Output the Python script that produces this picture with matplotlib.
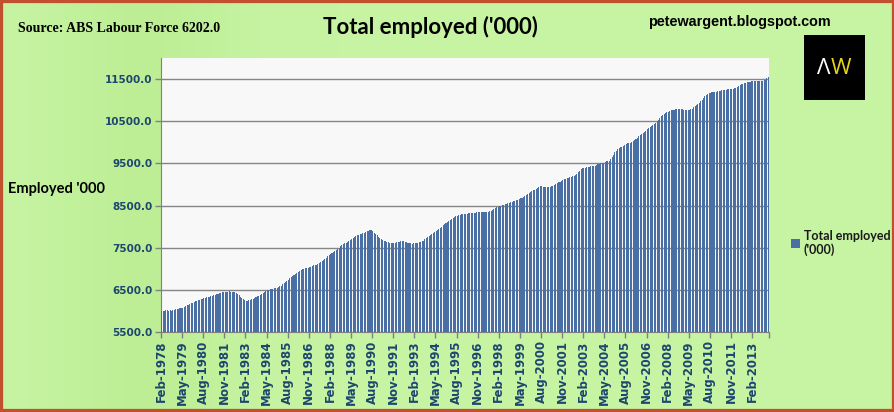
"""
Total employed ('000) - ABS Labour Force 6202.0, monthly Feb-1978 to Jan-2014
"""
import numpy as np
import matplotlib
matplotlib.use('Agg')
import matplotlib.pyplot as plt
from matplotlib.patches import Rectangle

# monthly employed ('000), one list per year
y1978 = [5995, 6010, 6005, 6020, 6015, 6000, 6025, 6010, 6030, 6020, 6035]  # Feb-Dec
y1979 = [6040, 6050, 6065, 6060, 6080, 6095, 6110, 6130, 6150, 6165, 6180, 6195]
y1980 = [6210, 6225, 6240, 6250, 6265, 6275, 6285, 6300, 6310, 6320, 6330, 6340]
y1981 = [6350, 6360, 6370, 6385, 6395, 6405, 6420, 6435, 6440, 6445, 6450, 6455]
y1982 = [6460, 6462, 6458, 6455, 6450, 6440, 6420, 6400, 6370, 6340, 6310, 6280]
y1983 = [6260, 6246, 6240, 6250, 6265, 6280, 6290, 6310, 6330, 6345, 6360, 6375]
y1984 = [6400, 6420, 6445, 6465, 6485, 6500, 6510, 6520, 6530, 6535, 6540, 6550]
y1985 = [6565, 6580, 6600, 6630, 6660, 6690, 6715, 6740, 6770, 6800, 6830, 6860]
y1986 = [6880, 6900, 6920, 6950, 6975, 6990, 7000, 7010, 7020, 7030, 7040, 7050]
y1987 = [7060, 7080, 7090, 7100, 7115, 7130, 7160, 7180, 7200, 7230, 7260, 7300]
y1988 = [7330, 7357, 7380, 7400, 7420, 7440, 7470, 7500, 7530, 7555, 7580, 7600]
y1989 = [7620, 7640, 7660, 7680, 7700, 7725, 7750, 7770, 7790, 7805, 7815, 7830]
y1990 = [7840, 7855, 7870, 7885, 7900, 7912, 7910, 7890, 7860, 7820, 7790, 7760]
y1991 = [7740, 7715, 7690, 7670, 7650, 7640, 7630, 7620, 7610, 7610, 7615, 7620]
y1992 = [7630, 7640, 7645, 7650, 7655, 7650, 7640, 7630, 7620, 7610, 7600, 7595]
y1993 = [7600, 7610, 7615, 7620, 7625, 7635, 7650, 7670, 7700, 7730, 7755, 7780]
y1994 = [7800, 7825, 7850, 7875, 7895, 7912, 7940, 7970, 8000, 8030, 8060, 8085]
y1995 = [8110, 8140, 8160, 8185, 8210, 8230, 8245, 8260, 8270, 8280, 8290, 8300]
y1996 = [8305, 8310, 8310, 8315, 8320, 8325, 8325, 8330, 8330, 8335, 8340, 8340]
y1997 = [8345, 8345, 8345, 8350, 8350, 8345, 8360, 8380, 8400, 8420, 8440, 8460]
y1998 = [8475, 8490, 8500, 8510, 8520, 8530, 8540, 8550, 8560, 8575, 8590, 8600]
y1999 = [8610, 8625, 8640, 8655, 8670, 8690, 8710, 8730, 8750, 8776, 8800, 8820]
y2000 = [8840, 8860, 8880, 8900, 8925, 8950, 8960, 8955, 8945, 8940, 8935, 8934]
y2001 = [8940, 8950, 8960, 8975, 8990, 9010, 9030, 9050, 9070, 9091, 9110, 9125]
y2002 = [9140, 9150, 9160, 9170, 9185, 9200, 9210, 9230, 9260, 9300, 9330, 9367]
y2003 = [9380, 9390, 9400, 9410, 9420, 9425, 9430, 9435, 9440, 9446, 9460, 9475]
y2004 = [9490, 9500, 9510, 9520, 9530, 9545, 9555, 9563, 9600, 9650, 9700, 9760]
y2005 = [9800, 9830, 9860, 9880, 9900, 9920, 9940, 9960, 9975, 9985, 9990, 9997]
y2006 = [10020, 10050, 10080, 10110, 10140, 10170, 10195, 10220, 10250, 10280, 10310, 10340]
y2007 = [10370, 10395, 10420, 10432, 10460, 10500, 10540, 10580, 10620, 10650, 10670, 10690]
y2008 = [10710, 10730, 10750, 10760, 10770, 10772, 10780, 10785, 10790, 10790, 10785, 10780]
y2009 = [10775, 10770, 10765, 10764, 10770, 10780, 10800, 10830, 10860, 10890, 10907, 10930]
y2010 = [10970, 11010, 11050, 11090, 11120, 11144, 11160, 11175, 11185, 11195, 11200, 11205]
y2011 = [11207, 11210, 11220, 11230, 11240, 11245, 11250, 11255, 11255, 11260, 11262, 11270]
y2012 = [11285, 11300, 11320, 11342, 11360, 11375, 11390, 11400, 11410, 11420, 11430, 11440]
y2013 = [11445, 11450, 11455, 11460, 11460, 11462, 11465, 11460, 11465, 11470, 11480, 11520]
y2014 = [11555]  # Jan

employed = (y1978 + y1979 + y1980 + y1981 + y1982 + y1983 + y1984 + y1985 + y1986
            + y1987 + y1988 + y1989 + y1990 + y1991 + y1992 + y1993 + y1994 + y1995
            + y1996 + y1997 + y1998 + y1999 + y2000 + y2001 + y2002 + y2003 + y2004
            + y2005 + y2006 + y2007 + y2008 + y2009 + y2010 + y2011 + y2012 + y2013
            + y2014)

tick_labels = ['Feb-1978', 'May-1979', 'Aug-1980', 'Nov-1981', 'Feb-1983', 'May-1984',
               'Aug-1985', 'Nov-1986', 'Feb-1988', 'May-1989', 'Aug-1990', 'Nov-1991',
               'Feb-1993', 'May-1994', 'Aug-1995', 'Nov-1996', 'Feb-1998', 'May-1999',
               'Aug-2000', 'Nov-2001', 'Feb-2003', 'May-2004', 'Aug-2005', 'Nov-2006',
               'Feb-2008', 'May-2009', 'Aug-2010', 'Nov-2011', 'Feb-2013']
label_every = 15
y_ticks = [5500, 6500, 7500, 8500, 9500, 10500, 11500]

W, H = 895, 412
fig = plt.figure(figsize=(W / 100, H / 100), dpi=100)
fig.patch.set_facecolor('#c6f4a2')

# soft green gradient behind everything
bg = fig.add_axes([0, 0, 1, 1], zorder=-10)
grad = np.linspace(0, 1, 256)
grad = np.vstack([1 - 0.5 * np.exp(-((grad - 0.16) / 0.10) ** 2)] * 2)
cmap = matplotlib.colors.LinearSegmentedColormap.from_list('g', ['#b4e988', '#c7f4a3'])
bg.imshow(grad, extent=[0, 1, 0, 1], aspect='auto', cmap=cmap, vmin=0, vmax=1)
bg.set_axis_off()

def px(x0, y0, x1, y1):
    return [x0 / W, 1 - y1 / H, (x1 - x0) / W, (y1 - y0) / H]

ax = fig.add_axes(px(161, 58, 769, 332))
ax.set_facecolor('#f8f8f8')

x = np.arange(len(employed))
ax.bar(x, employed, width=0.72, color='#4a6fa5', linewidth=0, zorder=3,
       label="Total employed\n('000)")

ax.set_xlim(-0.5, len(employed) - 0.5)
ax.set_ylim(5500, 12000)
ax.set_yticks(y_ticks)
ax.set_yticklabels(['%.1f' % v for v in y_ticks])
tick_pos = [i * label_every - 0.5 for i in range(len(tick_labels))] + [len(employed) - 0.5]
ax.set_xticks(tick_pos)
ax.set_xticklabels(tick_labels + [''], rotation=90)

lab_col = '#1d4670'
for t in ax.get_yticklabels():
    t.set_fontweight('bold')
    t.set_fontsize(7.5)
for t in ax.get_xticklabels():
    t.set_fontweight('bold')
    t.set_fontsize(8.5)
ax.tick_params(axis='both', colors='#808080', length=4, width=1, pad=2)
ax.tick_params(axis='both', labelcolor=lab_col)

ax.grid(axis='y', color='#858585', lw=1, zorder=1)
for s in ['top', 'right']:
    ax.spines[s].set_visible(False)
ax.spines['left'].set_color('#808080')
ax.spines['bottom'].set_color('#808080')

fig.text(18 / W, 1 - 29 / H, 'Source: ABS Labour Force 6202.0', family='Liberation Serif',
         fontweight='bold', fontsize=10, va='center', ha='left')
fig.text(430 / W, 1 - 27 / H, "Total employed ('000)", family='Lato', fontweight='bold',
         fontsize=16, va='center', ha='center')
fig.text(739 / W, 1 - 22 / H, 'petewargent.blogspot.com', family='Liberation Sans',
         fontweight='bold', fontsize=10.4, va='center', ha='center')
fig.text(8 / W, 1 - 189 / H, "Employed '000", family='Lato', fontweight='bold',
         fontsize=10.5, va='center', ha='left')

leg = ax.legend(loc='center left', bbox_to_anchor=(785 / W, 1 - 243 / H),
                bbox_transform=fig.transFigure, frameon=False, handlelength=0.7,
                handleheight=0.7, handletextpad=0.3, borderpad=0,
                prop={'family': 'Lato', 'weight': 'bold', 'size': 9})
for t in leg.get_texts():
    t.set_color('#1a1a1a')

# AW logo
fig.patches.append(Rectangle((804 / W, 1 - 100 / H), 61 / W, 65 / H,
                             transform=fig.transFigure, facecolor='black', edgecolor='none'))
fig.text(824 / W, 1 - 68 / H, '\u039b', color='white', fontsize=16, ha='center', va='center',
         family='Open Sans')
fig.text(841 / W, 1 - 68 / H, 'W', color='#e6d31e', fontsize=16, ha='center', va='center',
         family='Open Sans')

# reddish frame
fig.patches.append(Rectangle((0, 0), 1, 1, transform=fig.transFigure, fill=False,
                             edgecolor='#c0502e', linewidth=4.5))

fig.savefig('out.png', dpi=100, facecolor=fig.get_facecolor())
